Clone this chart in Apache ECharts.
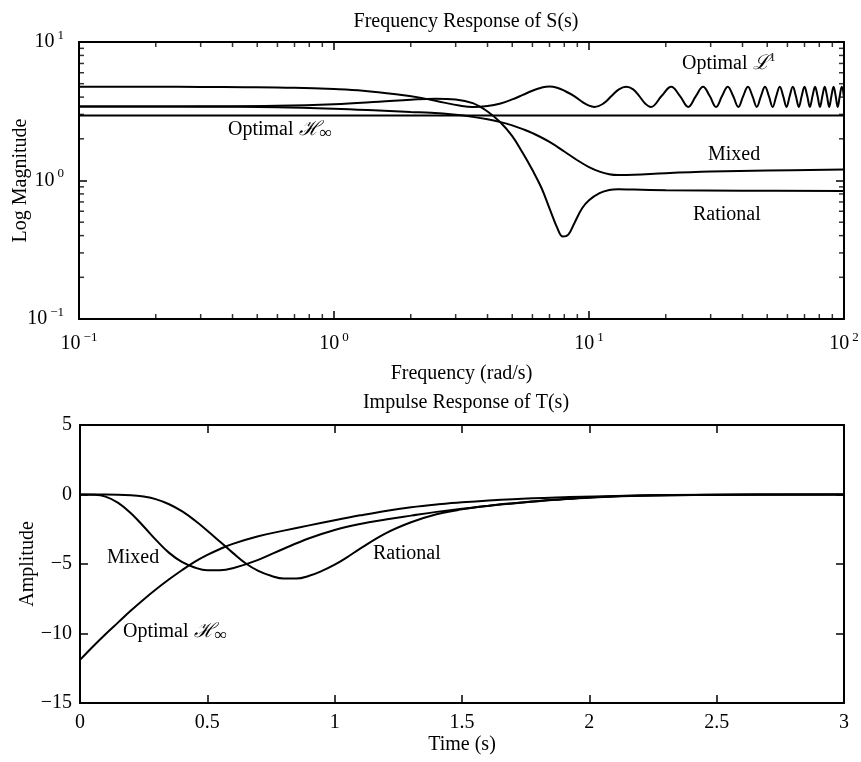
<!DOCTYPE html>
<html>
<head>
<meta charset="utf-8">
<script src="https://cdn.jsdelivr.net/npm/echarts@6/dist/echarts.min.js"></script>
<style>
  html, body { margin: 0; padding: 0; background: #fff; }
  #main { width: 861px; height: 762px; }
</style>
</head>
<body>
<div id="main"></div>
<script>
// Frequency response of S(s)
const freqInf = [0.1, 100];
const magInf = [2.95, 2.95];

const freqL1 = [0.1, 0.2, 0.3, 0.45, 0.7, 1, 1.3, 1.75, 2.2, 2.7, 3.1, 3.5,
  4, 4.5, 5, 5.5, 6, 6.5, 7, 7.5, 8, 8.75, 9.5, 10, 10.5,
  11.4, 12.25, 13.1, 14, 14.9, 15.75, 16.6, 17.5,
  19.25, 21, 22.75, 24.5, 26.25, 28,
  29.75, 31.5, 33.25, 35, 36.75, 38.5, 40.25, 42, 43.75, 45.5, 47.25, 49, 50.75,
  52.5, 54.25, 56, 57.75, 59.5, 61.25, 63, 64.75, 66.5, 68.25, 70, 71.75, 73.5,
  75.25, 77, 78.75, 80.5, 82.25, 84, 85.75, 87.5, 89.25, 91, 92.75, 94.5, 96.25, 98, 100];
const magL1 = [4.75, 4.75, 4.74, 4.72, 4.67, 4.57, 4.45, 4.2, 3.95, 3.65, 3.48, 3.4,
  3.45, 3.6, 3.85, 4.15, 4.45, 4.68, 4.78, 4.68, 4.45, 4.07, 3.65, 3.47, 3.4,
  3.6, 4.07, 4.55, 4.75, 4.55, 4.07, 3.6, 3.4,
  4.07, 4.75, 4.07, 3.4, 4.07, 4.75,
  4.07, 3.4, 4.07, 4.75, 4.07, 3.4, 4.07, 4.75, 4.07, 3.4, 4.07, 4.75, 4.07,
  3.4, 4.07, 4.75, 4.07, 3.4, 4.07, 4.75, 4.07, 3.4, 4.07, 4.75, 4.07, 3.4,
  4.07, 4.75, 4.07, 3.4, 4.07, 4.75, 4.07, 3.4, 4.07, 4.75, 4.07, 3.4, 4.07, 4.75, 3.95];

const freqMixed = [0.1, 0.3, 0.6, 1, 1.5, 2, 2.4, 3, 3.5, 4, 4.5, 5, 5.5, 6, 7, 8, 9, 10, 11, 12, 13, 15, 20, 30, 50, 100];
const magMixed = [3.42, 3.41, 3.38, 3.3, 3.2, 3.12, 3.08, 2.98, 2.88, 2.77, 2.64, 2.5, 2.35, 2.2, 1.9, 1.62, 1.4, 1.25, 1.16, 1.11, 1.095, 1.1, 1.13, 1.16, 1.18, 1.2];

const freqRational = [0.1, 0.3, 0.6, 1, 1.5, 2, 2.5, 3, 3.5, 4, 4.5, 5, 5.5, 6, 6.5, 7, 7.5, 7.9, 8.3, 8.8, 9.4, 10, 11, 12, 13, 15, 20, 40, 100];
const magRational = [3.42, 3.43, 3.46, 3.55, 3.7, 3.83, 3.9, 3.85, 3.62, 3.15, 2.62, 2.09, 1.58, 1.19, 0.89, 0.63, 0.457, 0.394, 0.407, 0.5, 0.63, 0.72, 0.81, 0.855, 0.865, 0.86, 0.852, 0.845, 0.84];

// Impulse response of T(s)
const timeInf = [0, 0.05, 0.1, 0.15, 0.2, 0.25, 0.3, 0.35, 0.4, 0.45, 0.5, 0.55, 0.6, 0.7, 0.8, 0.9, 1, 1.1, 1.2, 1.3, 1.4, 1.5, 1.7, 1.9, 2.1, 2.4, 3];
const ampInf = [-11.9, -10.95, -10.05, -9.2, -8.35, -7.55, -6.8, -6.1, -5.45, -4.85, -4.35, -3.92, -3.55, -3.0, -2.6, -2.22, -1.85, -1.5, -1.18, -0.92, -0.72, -0.56, -0.34, -0.2, -0.1, -0.04, 0];

const timeMixed = [0, 0.05, 0.1, 0.15, 0.2, 0.25, 0.3, 0.35, 0.4, 0.45, 0.5, 0.55, 0.6, 0.7, 0.8, 0.9, 1, 1.1, 1.2, 1.3, 1.4, 1.5, 1.6, 1.7, 1.8, 1.9, 2, 2.2, 2.5, 3];
const ampMixed = [0, -0.02, -0.15, -0.6, -1.35, -2.3, -3.3, -4.2, -4.85, -5.25, -5.45, -5.45, -5.3, -4.7, -3.9, -3.15, -2.55, -2.12, -1.8, -1.52, -1.25, -1.02, -0.82, -0.64, -0.48, -0.34, -0.23, -0.09, -0.02, 0];

const timeRational = [0, 0.1, 0.2, 0.25, 0.3, 0.35, 0.4, 0.45, 0.5, 0.55, 0.6, 0.65, 0.7, 0.75, 0.8, 0.85, 0.9, 0.95, 1, 1.05, 1.1, 1.2, 1.3, 1.4, 1.5, 1.6, 1.7, 1.8, 1.9, 2, 2.2, 2.5, 3];
const ampRational = [0, 0, -0.05, -0.15, -0.35, -0.7, -1.2, -1.85, -2.6, -3.4, -4.2, -4.95, -5.5, -5.85, -6.05, -6.05, -5.85, -5.5, -5.05, -4.5, -3.9, -2.8, -2.0, -1.42, -1.07, -0.82, -0.63, -0.47, -0.33, -0.22, -0.08, -0.02, 0];

// minor ticks of the log axes
const minorFreqTicks = [0.2, 0.3, 0.4, 0.5, 0.6, 0.7, 0.8, 0.9, 2, 3, 4, 5, 6, 7, 8, 9, 20, 30, 40, 50, 60, 70, 80, 90];
const minorMagTicks = [0.2, 0.3, 0.4, 0.5, 0.6, 0.7, 0.8, 0.9, 2, 3, 4, 5, 6, 7, 8, 9];

const serif = "'Liberation Serif', 'DejaVu Serif', serif";
const ink = '#000';

function zip(xs, ys) {
    return xs.map((x, i) => [x, ys[i]]);
}

function powLabel(v) {
    const e = Math.round(Math.log10(v));
    return '{b|10}{s|' + (e < 0 ? '\u2212' + (-e) : e) + '}';
}

const powRich = {
    b: { fontSize: 20, lineHeight: 26, fontFamily: serif, color: ink },
    s: { fontSize: 13, lineHeight: 14, verticalAlign: 'top', padding: [0, 0, 0, 3], fontFamily: serif, color: ink }
};

const axisLine = { show: true, onZero: false, lineStyle: { color: ink, width: 2 } };
const majorTick = { show: true, inside: true, length: 8, lineStyle: { color: ink, width: 1.5 } };
const nameStyle = { fontSize: 20, fontFamily: serif, color: ink };

function curve(name, data, xi, yi) {
    return {
        name: name, type: 'line', xAxisIndex: xi, yAxisIndex: yi,
        data: data, symbol: 'none', smooth: 0.4, clip: true,
        lineStyle: { color: ink, width: 2 }, silent: true
    };
}

function ticks(data, size, offset) {
    return {
        type: 'scatter', xAxisIndex: 0, yAxisIndex: 0, data: data, clip: false,
        symbol: 'rect', symbolSize: size, symbolOffset: offset,
        itemStyle: { color: ink }, silent: true, z: 5
    };
}

const hInf = {
    t: { fontSize: 20, lineHeight: 24, fontFamily: serif, fill: ink },
    h: { fontSize: 20, lineHeight: 24, fontStyle: 'italic', fontFamily: serif, fill: ink },
    i: { fontSize: 17, lineHeight: 16, verticalAlign: 'bottom', fontStyle: 'italic', fontFamily: serif, fill: ink }
};

let option = {
    backgroundColor: '#fff',
    animation: false,
    textStyle: { fontFamily: serif, color: ink },
    title: [
        { text: 'Frequency Response of S(s)', left: 461, top: 7, textAlign: 'center',
          textStyle: { fontSize: 20, fontWeight: 'normal', fontFamily: serif, color: ink } },
        { text: 'Impulse Response of T(s)', left: 461, top: 388, textAlign: 'center',
          textStyle: { fontSize: 20, fontWeight: 'normal', fontFamily: serif, color: ink } }
    ],
    grid: [
        { left: 79, top: 42, width: 765, height: 277, outerBoundsMode: 'none', containLabel: false },
        { left: 80, top: 425, width: 764, height: 278, outerBoundsMode: 'none', containLabel: false }
    ],
    xAxis: [
        { type: 'log', gridIndex: 0, logBase: 10, min: 0.1, max: 100, position: 'bottom',
          axisLine: axisLine, axisTick: majorTick, splitLine: { show: false },
          axisLabel: { formatter: powLabel, rich: powRich, margin: 12 },
          name: 'Frequency (rad/s)', nameLocation: 'middle', nameGap: 45, nameMoveOverlap: false,
          nameTextStyle: nameStyle },
        { type: 'log', gridIndex: 0, logBase: 10, min: 0.1, max: 100, position: 'top',
          axisLine: axisLine, axisTick: majorTick, splitLine: { show: false },
          axisLabel: { show: false } },
        { type: 'value', gridIndex: 1, min: 0, max: 3, interval: 0.5, position: 'bottom',
          axisLine: axisLine, axisTick: majorTick, splitLine: { show: false },
          axisLabel: { fontSize: 20, fontFamily: serif, color: ink, margin: 10 },
          name: 'Time (s)', nameLocation: 'middle', nameGap: 32, nameMoveOverlap: false,
          nameTextStyle: nameStyle },
        { type: 'value', gridIndex: 1, min: 0, max: 3, interval: 0.5, position: 'top',
          axisLine: axisLine, axisTick: majorTick, splitLine: { show: false },
          axisLabel: { show: false } }
    ],
    yAxis: [
        { type: 'log', gridIndex: 0, logBase: 10, min: 0.1, max: 10, position: 'left',
          axisLine: axisLine, axisTick: majorTick, splitLine: { show: false },
          axisLabel: { formatter: powLabel, rich: powRich, margin: 15 },
          name: 'Log Magnitude', nameLocation: 'middle', nameGap: 48, nameMoveOverlap: false,
          nameTextStyle: nameStyle },
        { type: 'log', gridIndex: 0, logBase: 10, min: 0.1, max: 10, position: 'right',
          axisLine: axisLine, axisTick: majorTick, splitLine: { show: false },
          axisLabel: { show: false } },
        { type: 'value', gridIndex: 1, min: -15, max: 5, interval: 5, position: 'left',
          axisLine: axisLine, axisTick: majorTick, splitLine: { show: false },
          axisLabel: { fontSize: 20, fontFamily: serif, color: ink, margin: 8,
                       formatter: v => String(v).replace('-', '\u2212') },
          name: 'Amplitude', nameLocation: 'middle', nameGap: 42, nameMoveOverlap: false,
          nameTextStyle: nameStyle },
        { type: 'value', gridIndex: 1, min: -15, max: 5, interval: 5, position: 'right',
          axisLine: axisLine, axisTick: majorTick, splitLine: { show: false },
          axisLabel: { show: false } }
    ],
    graphic: [
        { type: 'text', x: 228, y: 130, style: { text: '{t|Optimal }{h|\u210B}{i|\u221E}', verticalAlign: 'middle', rich: hInf } },
        { type: 'text', x: 682, y: 64, style: { text: '{t|Optimal }{h|\u2112}{s|1}', verticalAlign: 'middle',
          rich: { t: { fontSize: 20, lineHeight: 24, fontFamily: serif, fill: ink },
                  h: { fontSize: 20, lineHeight: 24, fontStyle: 'italic', fontFamily: serif, fill: ink },
                  s: { fontSize: 12, lineHeight: 12, verticalAlign: 'top', fontFamily: serif, fill: ink } } } },
        { type: 'text', x: 708, y: 155, style: { text: 'Mixed', fontSize: 20, fontFamily: serif, fill: ink, verticalAlign: 'middle' } },
        { type: 'text', x: 693, y: 215, style: { text: 'Rational', fontSize: 20, fontFamily: serif, fill: ink, verticalAlign: 'middle' } },
        { type: 'text', x: 107, y: 558, style: { text: 'Mixed', fontSize: 20, fontFamily: serif, fill: ink, verticalAlign: 'middle' } },
        { type: 'text', x: 373, y: 554, style: { text: 'Rational', fontSize: 20, fontFamily: serif, fill: ink, verticalAlign: 'middle' } },
        { type: 'text', x: 123, y: 632, style: { text: '{t|Optimal }{h|\u210B}{i|\u221E}', verticalAlign: 'middle', rich: hInf } }
    ],
    series: [
        curve('Optimal H-inf', zip(freqInf, magInf), 0, 0),
        curve('Optimal L1', zip(freqL1, magL1), 0, 0),
        curve('Mixed', zip(freqMixed, magMixed), 0, 0),
        curve('Rational', zip(freqRational, magRational), 0, 0),
        ticks(minorFreqTicks.map(v => [v, 0.1]), [1.5, 5], [0, -2.5]),
        ticks(minorFreqTicks.map(v => [v, 10]), [1.5, 5], [0, 2.5]),
        ticks(minorMagTicks.map(v => [0.1, v]), [5, 1.5], [2.5, 0]),
        ticks(minorMagTicks.map(v => [100, v]), [5, 1.5], [-2.5, 0]),
        curve('Optimal H-inf', zip(timeInf, ampInf), 2, 2),
        curve('Mixed', zip(timeMixed, ampMixed), 2, 2),
        curve('Rational', zip(timeRational, ampRational), 2, 2)
    ]
};

let myChart = echarts.init(document.getElementById('main'));
myChart.setOption(option);
</script>
</body>
</html>
